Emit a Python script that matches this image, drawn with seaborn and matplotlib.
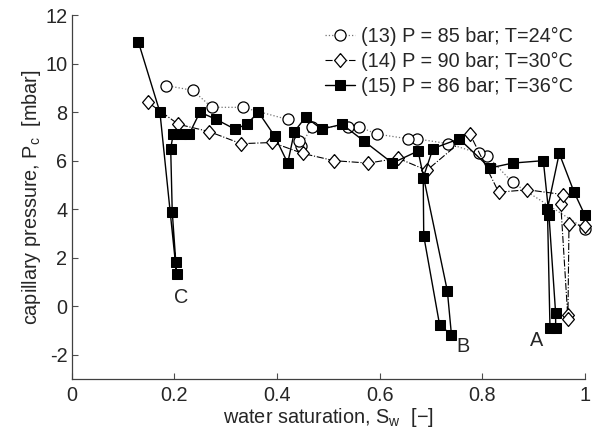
import matplotlib
matplotlib.use("Agg")
import matplotlib.pyplot as plt
import seaborn as sns
import pandas as pd

# Series (13): P = 85 bar, T = 24 °C
sw_13 = [1.000, 0.859, 0.810, 0.794, 0.734, 0.672, 0.656, 0.594, 0.560, 0.538,
         0.468, 0.446, 0.443, 0.421, 0.333, 0.273, 0.236, 0.184]
pc_13 = [3.2, 5.1, 6.2, 6.3, 6.7, 6.9, 6.9, 7.1, 7.4, 7.4,
         7.4, 6.6, 6.8, 7.7, 8.2, 8.2, 8.9, 9.1]

# Series (14): P = 90 bar, T = 30 °C
sw_14 = [1.000, 0.969, 0.967, 0.967, 0.953, 0.958, 0.888, 0.832, 0.776, 0.692,
         0.636, 0.578, 0.511, 0.450, 0.391, 0.330, 0.268, 0.208, 0.149]
pc_14 = [3.3, 3.4, -0.35, -0.55, 4.2, 4.6, 4.8, 4.7, 7.1, 5.6,
         6.1, 5.9, 6.0, 6.3, 6.75, 6.7, 7.2, 7.5, 8.4]

# Series (15): P = 86 bar, T = 36 °C
sw_15 = [1.000, 0.979, 0.950, 0.927, 0.932, 0.943, 0.943, 0.930, 0.919, 0.859,
         0.815, 0.755, 0.704, 0.685, 0.686, 0.717, 0.740, 0.732, 0.675, 0.625,
         0.570, 0.527, 0.487, 0.456, 0.434, 0.421, 0.396, 0.364, 0.341, 0.318,
         0.282, 0.250, 0.229, 0.214, 0.198, 0.193, 0.196, 0.203, 0.2045, 0.172,
         0.130]
pc_15 = [3.75, 4.7, 6.3, 4.0, -0.9, -0.9, -0.3, 3.75, 6.0, 5.9,
         5.7, 6.9, 6.5, 5.3, 2.9, -0.78, -1.18, 0.63, 6.4, 5.9,
         6.8, 7.5, 7.3, 7.8, 7.2, 5.9, 7.0, 8.0, 7.5, 7.3,
         7.7, 8.0, 7.1, 7.1, 7.1, 6.5, 3.9, 1.81, 1.32, 8.0,
         10.9]

labels = ["(13) P = 85 bar; T=24°C",
          "(14) P = 90 bar; T=30°C",
          "(15) P = 86 bar; T=36°C"]

# Event labels and where they sit
event_names = ["A", "B", "C"]
event_sw = [0.905, 0.763, 0.213]
event_pc = [-1.4, -1.67, 0.35]

x_ticks = [0, 0.2, 0.4, 0.6, 0.8, 1.0]
x_ticklabels = ["0", "0.2", "0.4", "0.6", "0.8", "1"]
y_ticks = [-2, 0, 2, 4, 6, 8, 10, 12]

sns.set_style("ticks")
plt.rcParams["font.family"] = ["Liberation Sans", "DejaVu Sans"]
plt.rcParams["mathtext.default"] = "regular"
plt.rcParams["axes.unicode_minus"] = False
plt.rcParams["xtick.direction"] = "in"
plt.rcParams["ytick.direction"] = "in"

FS = 14.3

fig = plt.figure(figsize=(5.92, 4.34), dpi=100)
ax = fig.add_axes([0.121, 0.127, 0.867, 0.838])

diamond = [(0, 1), (0.85, 0), (0, -1), (-0.85, 0), (0, 1)]

d13 = pd.DataFrame({"sw": sw_13, "pc": pc_13})
d14 = pd.DataFrame({"sw": sw_14, "pc": pc_14})
d15 = pd.DataFrame({"sw": sw_15, "pc": pc_15})

sns.lineplot(data=d13, x="sw", y="pc", sort=False, estimator=None, ax=ax,
             color="0.45", linestyle=":", linewidth=0.9, marker="o",
             markersize=8, markerfacecolor="white", markeredgecolor="black",
             markeredgewidth=0.9, label=labels[0], clip_on=False)
sns.lineplot(data=d14, x="sw", y="pc", sort=False, estimator=None, ax=ax,
             color="black", linestyle="-.", linewidth=0.8, marker=diamond,
             markersize=10, markerfacecolor="white", markeredgecolor="black",
             markeredgewidth=0.9, label=labels[1], clip_on=False)
sns.lineplot(data=d15, x="sw", y="pc", sort=False, estimator=None, ax=ax,
             color="black", linestyle="-", linewidth=1.0, marker="s",
             markersize=6.5, markerfacecolor="black", markeredgecolor="black",
             label=labels[2], clip_on=False)

for name, xs, ys in zip(event_names, event_sw, event_pc):
    ax.text(xs, ys, name, fontsize=FS, ha="center", va="center")

ax.set_xlim(0, 1)
ax.set_ylim(-3, 12)
ax.set_xticks(x_ticks)
ax.set_xticklabels(x_ticklabels)
ax.set_yticks(y_ticks)
ax.tick_params(labelsize=FS, length=4, width=0.8, color="0.3")
ax.tick_params(axis="y", pad=3)
ax.tick_params(axis="x", pad=5)
for s in ("left", "bottom"):
    ax.spines[s].set_linewidth(0.9)
    ax.spines[s].set_color("0.25")
sns.despine(ax=ax)

ax.set_xlabel("water saturation, S$_w$  [−]", fontsize=FS, labelpad=0.5)
ax.set_ylabel("capillary pressure, P$_c$  [mbar]", fontsize=FS, labelpad=2)

ax.legend(loc="upper right", frameon=False, fontsize=FS, handlelength=1.5,
          handletextpad=0.3, labelspacing=0.3, borderaxespad=0.2,
          bbox_to_anchor=(1.0, 1.0))

fig.savefig("out.png", dpi=100)
